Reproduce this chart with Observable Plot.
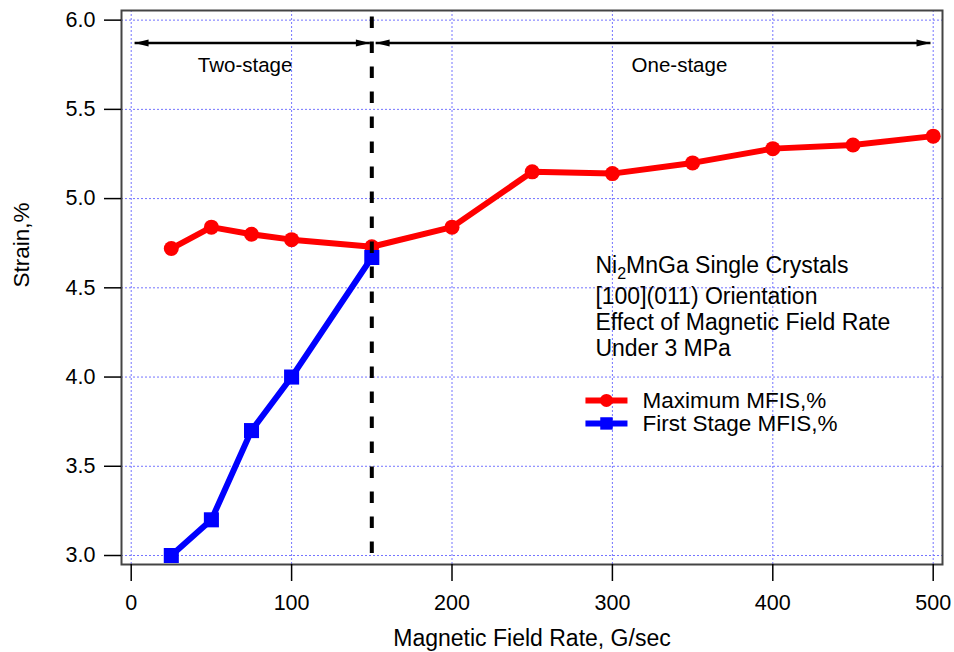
<!DOCTYPE html>
<html><head><meta charset="utf-8">
<script src="https://cdn.jsdelivr.net/npm/d3@7"></script>
<script src="https://cdn.jsdelivr.net/npm/@observablehq/plot@0.6"></script>
<style>body{margin:0;background:#fff} #chart svg{display:block}</style>
</head><body><div id="chart"></div>
<script>
// ---- data ----
const rates = [25, 50, 75, 100, 150, 200, 250, 300, 350, 400, 450, 500];
const maxMFIS = [4.72, 4.84, 4.80, 4.77, 4.73, 4.84, 5.15, 5.14, 5.20, 5.28, 5.30, 5.35];
const firstRates = [25, 50, 75, 100, 150];
const firstMFIS = [3.00, 3.20, 3.70, 4.00, 4.67];

const xTicks = [0, 100, 200, 300, 400, 500];
const yTicks = [3.0, 3.5, 4.0, 4.5, 5.0, 5.5, 6.0];

const boundaryRate = 150;
const boundaryTop = 6.017, boundaryBottom = 3.0;

const arrowX1 = [2.1, 152.4];
const arrowX2 = [148.8, 498.3];
const arrowY = 5.872;

const stageLabels = ["Two-stage", "One-stage"];
const stageX = [71, 341.8];
const stageY = 5.745;

const annoLines = ["Ni2MnGa Single Crystals", "[100](011) Orientation", "Effect of Magnetic Field Rate", "Under 3 MPa"];
const annoY = [4.625, 4.449, 4.303, 4.158];
const annoX = 289.4;

const legendLabels = ["Maximum MFIS,%", "First Stage MFIS,%"];
const legendColors = ["#ff0000", "#0000ff"];
const legendSymbols = ["circle", "square"];
const legendR = [6.5, 7];
const legendY = [3.869, 3.740];
const legendX1 = 283.2, legendX2 = 309.4, legendMarkX = 296.3, legendTextX = 318.7;

// ---- tables ----
const maxData = rates.map((r, i) => ({rate: r, strain: maxMFIS[i]}));
const firstData = firstRates.map((r, i) => ({rate: r, strain: firstMFIS[i]}));
const arrows = arrowX1.map((x1, i) => ({x1, x2: arrowX2[i], y: arrowY}));
const stages = stageLabels.map((t, i) => ({t, x: stageX[i], y: stageY}));
const anno = annoLines.map((t, i) => ({t, x: annoX, y: annoY[i]}));
const legend = legendLabels.map((t, i) => ({t, c: legendColors[i], s: legendSymbols[i], r: legendR[i], y: legendY[i]}));

const FONT = "Arial, 'Liberation Sans', sans-serif";
const gridColor = "#7474ff";

function filledArrow(orient) {
  return (color, context) => {
    const m = d3.create("svg:marker")
      .attr("viewBox", "-15 -5 16 10")
      .attr("markerWidth", 16)
      .attr("markerHeight", 10)
      .attr("markerUnits", "userSpaceOnUse")
      .attr("refX", 0).attr("refY", 0)
      .attr("orient", orient);
    m.append("path").attr("d", "M-14,-3.5L0,0L-14,3.5Z").attr("fill", color).attr("stroke", "none");
    return m.node();
  };
}

const chart = Plot.plot({
  width: 954,
  height: 652,
  marginLeft: 121,
  marginRight: 12,
  marginTop: 10,
  marginBottom: 88,
  style: {fontFamily: FONT, background: "#fff", color: "#000"},
  x: {domain: [-6.05, 505.8]},
  y: {domain: [2.9496, 6.054]},
  marks: [
    Plot.gridX(xTicks, {stroke: gridColor, strokeOpacity: 1, strokeWidth: 1, strokeDasharray: "2,2"}),
    Plot.gridY(yTicks, {stroke: gridColor, strokeOpacity: 1, strokeWidth: 1, strokeDasharray: "2,2"}),
    Plot.frame({stroke: "#444", strokeWidth: 2}),
    Plot.axisX(xTicks, {tickSize: 17, tickPadding: 13, fontSize: 21.5, label: null, strokeWidth: 1.5}),
    Plot.axisY(yTicks, {tickSize: 17, tickPadding: 9, fontSize: 21.5, label: null, strokeWidth: 1.5, tickFormat: d => d.toFixed(1)}),
    Plot.text(["Magnetic Field Rate, G/sec"], {frameAnchor: "bottom", dy: 74, fontSize: 23, lineAnchor: "middle"}),
    Plot.text(["Strain,%"], {frameAnchor: "left", dx: -100, rotate: -90, fontSize: 22.5, lineAnchor: "middle"}),
    Plot.line(maxData, {x: "rate", y: "strain", stroke: "#ff0000", strokeWidth: 6}),
    Plot.dot(maxData, {x: "rate", y: "strain", fill: "#ff0000", r: 7.5, symbol: "circle"}),
    Plot.line(firstData, {x: "rate", y: "strain", stroke: "#0000ff", strokeWidth: 6}),
    Plot.dot(firstData, {x: "rate", y: "strain", fill: "#0000ff", r: 8.5, symbol: "square"}),
    Plot.ruleX([boundaryRate], {y1: boundaryTop, y2: boundaryBottom, stroke: "#000", strokeWidth: 4, strokeDasharray: "11.5,13.5"}),
    Plot.link(arrows, {x1: "x1", x2: "x2", y1: "y", y2: "y", stroke: "#000", strokeWidth: 2.5,
      markerStart: filledArrow("auto-start-reverse"), markerEnd: filledArrow("auto")}),
    Plot.text(stages, {x: "x", y: "y", text: "t", fontSize: 20.5, lineAnchor: "middle"}),
    Plot.text(anno, {x: "x", y: "y", text: "t", fontSize: 23, textAnchor: "start", lineAnchor: "middle"}),
    Plot.link(legend, {x1: () => legendX1, x2: () => legendX2, y1: "y", y2: "y", stroke: "c", strokeWidth: 6}),
    Plot.dot(legend, {x: () => legendMarkX, y: "y", fill: "c", symbol: "s", r: "r"}),
    Plot.text(legend, {x: () => legendTextX, y: "y", text: "t", fontSize: 22.5, textAnchor: "start", lineAnchor: "middle"})
  ],
  r: {type: "identity"},
  color: {type: "identity"},
  symbol: {type: "identity"}
});

document.getElementById("chart").appendChild(chart);

// subscript in "Ni2MnGa"
d3.select(chart).selectAll("text").each(function() {
  if (this.textContent === annoLines[0]) {
    const t = d3.select(this);
    t.text(null);
    t.append("tspan").text("Ni");
    t.append("tspan").attr("dy", 6).attr("font-size", 16).text("2");
    t.append("tspan").attr("dy", -6).text("MnGa Single Crystals");
  }
});
</script></body></html>
